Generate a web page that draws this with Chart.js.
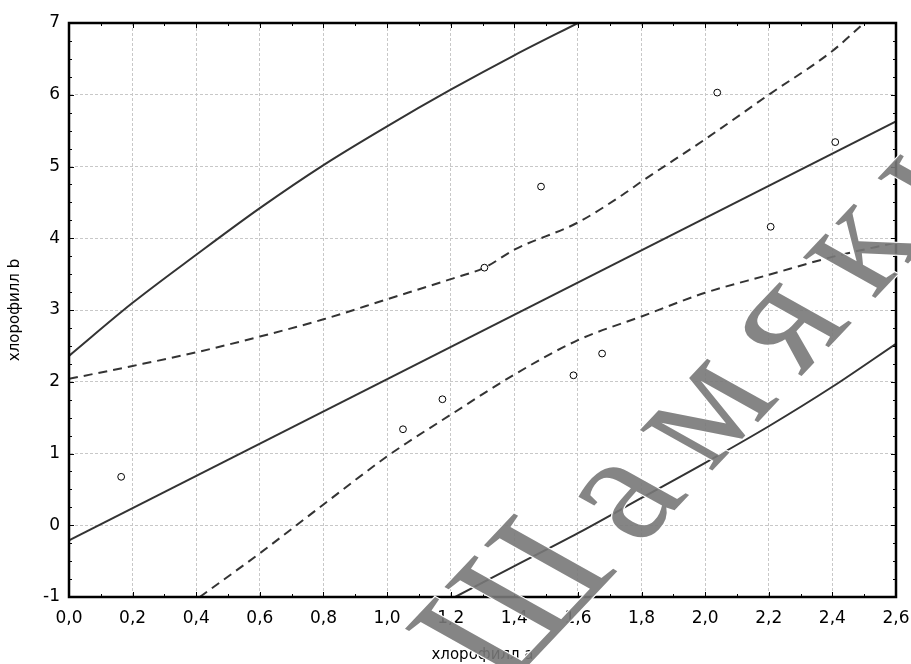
<!DOCTYPE html>
<html lang="ru">
<head>
<meta charset="utf-8" />
<title>хлорофилл a / хлорофилл b</title>
<script src="https://cdn.jsdelivr.net/npm/chart.js@4.4.0/dist/chart.umd.min.js"></script>
<style>
    body { margin: 0; background: #fff; }
</style>
</head>
<body>
<canvas id="chlPlot" width="911" height="664"></canvas>
<script>
// observed values
var obsA = [0.164, 1.050, 1.174, 1.306, 1.484, 1.586, 1.676, 2.038, 2.206, 2.409];
var obsB = [0.675, 1.338, 1.756, 3.590, 4.720, 2.090, 2.393, 6.030, 4.160, 5.340];

// regression line
var fitA = [0.0, 2.6];
var fitB = [-0.21, 5.63];

// upper / lower solid bands
var predUpA = [0.0, 0.2, 0.4, 0.6, 0.8, 1.0, 1.2, 1.4, 1.6];
var predUpB = [2.36, 3.10, 3.77, 4.42, 5.02, 5.56, 6.07, 6.55, 7.0];
var predLoA = [1.214, 1.4, 1.6, 1.8, 2.0, 2.2, 2.4, 2.6];
var predLoB = [-1.0, -0.57, -0.11, 0.38, 0.87, 1.38, 1.93, 2.53];

// upper / lower dashed bands
var confUpA = [0.0, 0.2, 0.4, 0.6, 0.8, 1.0, 1.2, 1.306, 1.4, 1.6, 1.742, 1.8, 2.0, 2.2, 2.4, 2.5];
var confUpB = [2.04, 2.22, 2.41, 2.63, 2.87, 3.15, 3.43, 3.59, 3.84, 4.22, 4.61, 4.79, 5.38, 6.00, 6.61, 7.0];
var confLoA = [0.411, 0.6, 0.8, 1.0, 1.063, 1.2, 1.4, 1.6, 1.8, 2.0, 2.2, 2.4, 2.6];
var confLoB = [-1.0, -0.39, 0.29, 0.96, 1.15, 1.54, 2.10, 2.58, 2.91, 3.24, 3.49, 3.74, 3.94];

var xTicks = { min: 0, max: 2.6, step: 0.2 };
var yTicks = { min: -1, max: 7, step: 1 };

function pairs(xs, ys) {
    return xs.map(function (x, i) { return { x: x, y: ys[i] }; });
}

var lineCol = '#333333';
var fontFam = '"DejaVu Sans", Arial, sans-serif';

function curve(xs, ys, dashed) {
    return {
        type: 'scatter',
        data: pairs(xs, ys),
        showLine: true,
        borderColor: lineCol,
        borderWidth: 2,
        borderDash: dashed ? [9, 6] : [],
        pointRadius: 0,
        cubicInterpolationMode: 'monotone',
        fill: false
    };
}

// frame, inward ticks and the watermark
var framePlugin = {
    id: 'frameTicks',
    afterDatasetsDraw: function (chart) {
        var ctx = chart.ctx, a = chart.chartArea;
        var sx = chart.scales.x, sy = chart.scales.y;
        ctx.save();
        ctx.strokeStyle = '#000';
        ctx.lineWidth = 1;
        ctx.beginPath();
        for (var i = 0; i <= 26; i++) {
            var px = Math.round(sx.getPixelForValue(i / 10)) + 0.5;
            var len = (i % 2 === 0) ? 5 : 3;
            ctx.moveTo(px, a.bottom); ctx.lineTo(px, a.bottom - len);
            ctx.moveTo(px, a.top); ctx.lineTo(px, a.top + len);
        }
        for (var j = 0; j <= 32; j++) {
            var py = Math.round(sy.getPixelForValue(-1 + j / 4)) + 0.5;
            var ln = (j % 4 === 0) ? 5 : 3;
            ctx.moveTo(a.left, py); ctx.lineTo(a.left + ln, py);
            ctx.moveTo(a.right, py); ctx.lineTo(a.right - ln, py);
        }
        ctx.stroke();
        ctx.lineWidth = 2.5;
        ctx.strokeRect(a.left, a.top, a.right - a.left, a.bottom - a.top);
        ctx.restore();
    },
    afterDraw: function (chart) {
        var ctx = chart.ctx;
        ctx.save();
        ctx.translate(505, 690);
        ctx.scale(1.3, 1);
        ctx.rotate(-54 * Math.PI / 180);
        ctx.font = '150px "Liberation Serif", "DejaVu Serif", serif';
        ctx.letterSpacing = '25px';
        ctx.fillStyle = 'rgba(120,120,120,0.9)';
        ctx.strokeStyle = '#fff';
        ctx.lineWidth = 2;
        ctx.strokeText('Шамякин', 0, 0);
        ctx.fillText('Шамякин', 0, 0);
        ctx.restore();
    }
};

new Chart(document.getElementById('chlPlot').getContext('2d'), {
    type: 'scatter',
    data: {
        datasets: [
            {
                data: pairs(obsA, obsB),
                pointStyle: 'circle',
                pointRadius: 3.4,
                borderWidth: 1,
                borderColor: '#000',
                backgroundColor: '#fff'
            },
            curve(fitA, fitB, false),
            curve(predUpA, predUpB, false),
            curve(predLoA, predLoB, false),
            curve(confUpA, confUpB, true),
            curve(confLoA, confLoB, true)
        ]
    },
    options: {
        responsive: false,
        animation: false,
        layout: { padding: { top: 23, right: 15, bottom: 0, left: 0 } },
        plugins: { legend: { display: false }, tooltip: { enabled: false } },
        scales: {
            x: {
                type: 'linear',
                min: xTicks.min,
                max: xTicks.max,
                afterFit: function (s) {
                    s.height = 67;
                    s.paddingLeft = 0;
                    s.paddingRight = 15;
                },
                ticks: {
                    stepSize: xTicks.step,
                    color: '#000',
                    padding: 11,
                    font: { family: fontFam, size: 17 },
                    callback: function (v) { return v.toFixed(1).replace('.', ','); }
                },
                grid: { color: '#c8c8c8', drawTicks: false },
                border: { display: true, color: '#000', width: 2, dash: [3, 2] },
                title: {
                    display: true,
                    text: 'хлорофилл a',
                    color: '#000',
                    font: { family: fontFam, size: 15 },
                    padding: { top: 0, bottom: 0 }
                }
            },
            y: {
                type: 'linear',
                min: yTicks.min,
                max: yTicks.max,
                afterFit: function (s) { s.width = 69; },
                ticks: {
                    stepSize: yTicks.step,
                    color: '#000',
                    padding: 9,
                    font: { family: fontFam, size: 17 },
                    callback: function (v) { return String(v); }
                },
                grid: { color: '#c8c8c8', drawTicks: false },
                border: { display: true, color: '#000', width: 2, dash: [3, 2] },
                title: {
                    display: true,
                    text: 'хлорофилл b',
                    color: '#000',
                    font: { family: fontFam, size: 15 },
                    padding: { top: 6, bottom: 0 }
                }
            }
        }
    },
    plugins: [framePlugin]
});
</script>
</body>
</html>
